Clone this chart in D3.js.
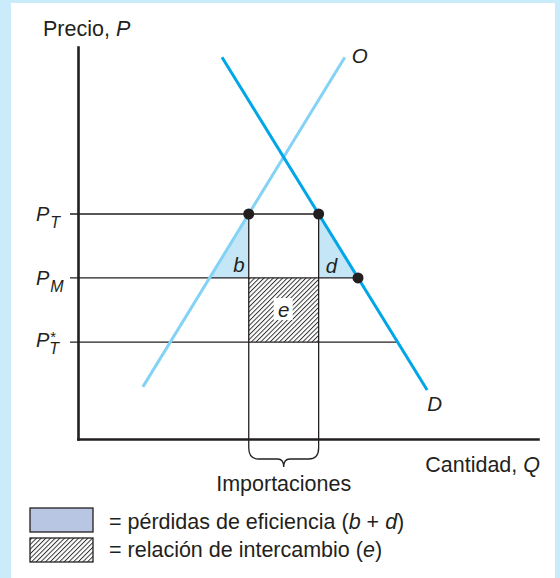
<!DOCTYPE html>
<html>
<head>
<meta charset="utf-8">
<script src="https://cdn.jsdelivr.net/npm/d3@7"></script>
<style>
  body { margin: 0; background: #c9ebfa; }
  svg { display: block; font-family: "Liberation Sans", Arial, Helvetica, sans-serif; }
  .it { font-style: italic; }
</style>
</head>
<body>
<div id="chart"></div>
<script>
// price levels (P_T, P_M, P_T*)
const priceKeys = ["PT", "PM", "PTs"];
const priceValues = [57.4, 41.1, 24.7];
// supply (O) and demand (D) end points, in chart units
const supplyQ = [14.1, 58.0];
const supplyP = [13.3, 97.4];
const demandQ = [31.3, 75.9];
const demandP = [97.4, 12.5];
const axisLabels = ["Precio, ", "P", "Cantidad, ", "Q"];
const legendTexts = ["= pérdidas de eficiencia (", "b", " + ", "d", ")", "= relación de intercambio (", "e", ")"];

const W = 560, H = 578;
const svg = d3.select("#chart").append("svg").attr("width", W).attr("height", H);

svg.append("rect").attr("x", 11).attr("y", 3).attr("width", 544).attr("height", 575).attr("fill", "#fff");

const defs = svg.append("defs");
const pat = defs.append("pattern").attr("id", "hatch").attr("patternUnits", "userSpaceOnUse")
  .attr("width", 3.3).attr("height", 3.3).attr("patternTransform", "rotate(45)");
pat.append("rect").attr("width", 3.3).attr("height", 3.3).attr("fill", "#fff");
pat.append("line").attr("x1", 0.5).attr("y1", 0).attr("x2", 0.5).attr("y2", 3.3)
  .attr("stroke", "#222").attr("stroke-width", 0.9);

const x = d3.scaleLinear().domain([0, 100]).range([78, 538]);
const y = d3.scaleLinear().domain([0, 100]).range([439, 47]);

function qAt(qs, ps, p) {
  return qs[0] + (qs[1] - qs[0]) * (p - ps[0]) / (ps[1] - ps[0]);
}
const [pT, pM, pTs] = priceValues;
const sT = qAt(supplyQ, supplyP, pT), sM = qAt(supplyQ, supplyP, pM);
const dT = qAt(demandQ, demandP, pT), dM = qAt(demandQ, demandP, pM), dTs = qAt(demandQ, demandP, pTs);
const lineEnds = [dT, dM, dTs];

const ink = "#231f20";

// deadweight triangles
const tri = d3.line().x(d => x(d[0])).y(d => y(d[1]));
svg.append("path").attr("d", tri([[sT, pT], [sM, pM], [sT, pM]]) + "Z").attr("fill", "#c4e6f7");
svg.append("path").attr("d", tri([[dT, pT], [dT, pM], [dM, pM]]) + "Z").attr("fill", "#c4e6f7");

// terms of trade rectangle
svg.append("rect").attr("x", x(sT)).attr("y", y(pM)).attr("width", x(dT) - x(sT)).attr("height", y(pTs) - y(pM))
  .attr("fill", "url(#hatch)");

// price lines
svg.selectAll(".pl").data(priceValues).join("line").attr("class", "pl")
  .attr("x1", x(0) - 8).attr("x2", (d, i) => x(lineEnds[i]))
  .attr("y1", d => y(d)).attr("y2", d => y(d))
  .attr("stroke", ink).attr("stroke-width", 1.3);

// import verticals
svg.selectAll(".vl").data([sT, dT]).join("line").attr("class", "vl")
  .attr("x1", d => x(d)).attr("x2", d => x(d))
  .attr("y1", y(pT)).attr("y2", y(0) + 9)
  .attr("stroke", ink).attr("stroke-width", 1.3);

// brace under imports
const bx0 = x(sT), bx1 = x(dT), bm = (bx0 + bx1) / 2, by = y(0) + 9;
svg.append("path")
  .attr("d", `M${bx0},${by} Q${bx0},${by + 11} ${bx0 + 10},${by + 11} L${bm - 6},${by + 11} Q${bm},${by + 11} ${bm},${by + 19}`
    + ` Q${bm},${by + 11} ${bm + 6},${by + 11} L${bx1 - 10},${by + 11} Q${bx1},${by + 11} ${bx1},${by}`)
  .attr("fill", "none").attr("stroke", ink).attr("stroke-width", 1.3);

// supply and demand curves
svg.append("line").attr("x1", x(supplyQ[0])).attr("y1", y(supplyP[0])).attr("x2", x(supplyQ[1])).attr("y2", y(supplyP[1]))
  .attr("stroke", "#84d2f5").attr("stroke-width", 3);
svg.append("line").attr("x1", x(demandQ[0])).attr("y1", y(demandP[0])).attr("x2", x(demandQ[1])).attr("y2", y(demandP[1]))
  .attr("stroke", "#00a6e6").attr("stroke-width", 3);

// axes
svg.append("g").attr("transform", `translate(${x(0)},0)`)
  .call(d3.axisLeft(y).tickValues([]).tickSizeOuter(0));
svg.append("g").attr("transform", `translate(0,${y(0)})`)
  .call(d3.axisBottom(x).tickValues([]).tickSizeOuter(0));
svg.selectAll(".domain").attr("stroke", ink).attr("stroke-width", 2.6).attr("stroke-linecap", "square");

// points
svg.selectAll(".pt").data([[sT, pT], [dT, pT], [dM, pM]]).join("circle").attr("class", "pt")
  .attr("cx", d => x(d[0])).attr("cy", d => y(d[1])).attr("r", 5.5).attr("fill", ink);

// region letters
const fs = 20.5;
svg.append("text").attr("class", "it").attr("x", x(sT) - 4).attr("y", y(pM) - 6).attr("text-anchor", "end")
  .attr("font-size", fs).attr("fill", ink).text("b");
svg.append("text").attr("class", "it").attr("x", x(dT) + 7).attr("y", y(pM) - 5)
  .attr("font-size", fs).attr("fill", ink).text("d");
const ex = (x(sT) + x(dT)) / 2, ey = (y(pM) + y(pTs)) / 2;
svg.append("rect").attr("x", ex - 10).attr("y", ey - 12).attr("width", 19).attr("height", 22).attr("fill", "#fff");
svg.append("text").attr("class", "it").attr("x", ex).attr("y", ey + 7).attr("text-anchor", "middle")
  .attr("font-size", fs).attr("fill", ink).text("e");

// curve labels
svg.append("text").attr("class", "it").attr("x", x(supplyQ[1]) + 7).attr("y", y(supplyP[1]) + 6)
  .attr("font-size", fs).attr("fill", ink).text("O");
svg.append("text").attr("class", "it").attr("x", x(demandQ[1])).attr("y", y(demandP[1]) + 21)
  .attr("font-size", fs).attr("fill", ink).text("D");

// price labels
const subs = ["T", "M", "T"];
priceValues.forEach((p, i) => {
  const star = priceKeys[i] === "PTs";
  const t = svg.append("text").attr("x", 36).attr("y", y(p) + (star ? 5 : 7))
    .attr("font-size", 20).attr("fill", ink).attr("class", "it");
  t.append("tspan").text("P");
  if (star) {
    t.append("tspan").attr("font-size", 15).attr("font-style", "normal").attr("dx", 1).attr("dy", -5).text("*");
    t.append("tspan").attr("font-size", 16).attr("dx", -7).attr("dy", 12).text(subs[i]);
  } else {
    t.append("tspan").attr("font-size", 16).attr("dy", 7).attr("dx", 1).text(subs[i]);
  }
});

// axis titles
const tfs = 21.5;
const yt = svg.append("text").attr("x", 43).attr("y", 36).attr("font-size", tfs).attr("fill", ink);
yt.append("tspan").text(axisLabels[0]);
yt.append("tspan").attr("class", "it").text(axisLabels[1]);
const xt = svg.append("text").attr("x", 540).attr("y", 472).attr("text-anchor", "end").attr("font-size", tfs).attr("fill", ink);
xt.append("tspan").text(axisLabels[2]);
xt.append("tspan").attr("class", "it").text(axisLabels[3]);

svg.append("text").attr("x", bm).attr("y", 491).attr("text-anchor", "middle").attr("font-size", tfs).attr("fill", ink)
  .text("Importaciones");

// legend
svg.append("rect").attr("x", 30).attr("y", 508).attr("width", 63).attr("height", 24)
  .attr("fill", "#b8c5e3").attr("stroke", ink).attr("stroke-width", 1.3);
svg.append("rect").attr("x", 30).attr("y", 538).attr("width", 63).attr("height", 24)
  .attr("fill", "url(#hatch)").attr("stroke", ink).attr("stroke-width", 1.3);
const l1 = svg.append("text").attr("x", 109).attr("y", 529).attr("font-size", tfs).attr("fill", ink);
legendTexts.slice(0, 5).forEach((s, i) => l1.append("tspan").attr("class", i % 2 ? "it" : null).text(s));
const l2 = svg.append("text").attr("x", 109).attr("y", 557).attr("font-size", tfs).attr("fill", ink);
legendTexts.slice(5).forEach((s, i) => l2.append("tspan").attr("class", i % 2 ? "it" : null).text(s));
</script>
</body>
</html>
